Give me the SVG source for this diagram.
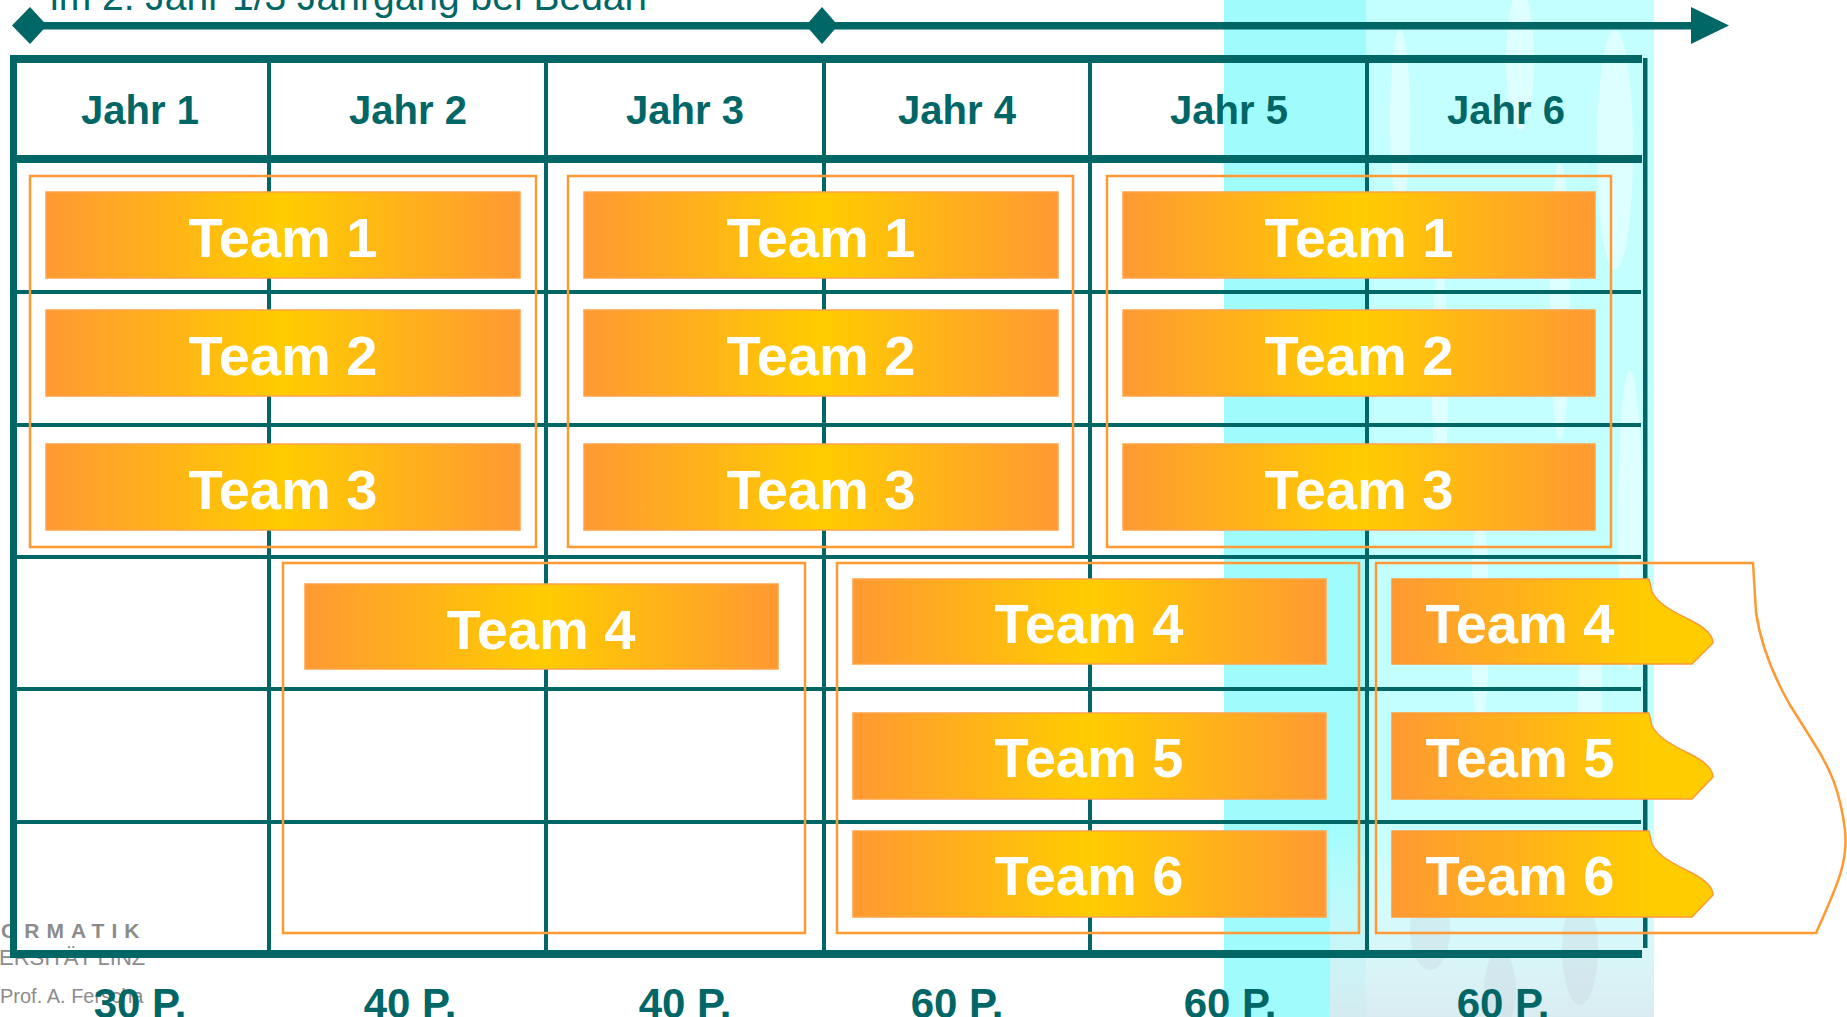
<svg xmlns="http://www.w3.org/2000/svg" width="1847" height="1017" viewBox="0 0 1847 1017">
<defs>
<style>
.teal{fill:#006666}
.frame{fill:none;stroke:#FF9933;stroke-width:2.5}
.box{fill:url(#gSym);stroke:#FFA347;stroke-width:1.5}
.abox{fill:url(#gArr);stroke:#FF9933;stroke-width:1.5}
.tt{font-family:"Liberation Sans",Arial,sans-serif;font-weight:bold;font-size:56px;fill:#FFFFFF;text-anchor:middle}
.hd{font-family:"Liberation Sans",Arial,sans-serif;font-weight:bold;font-size:40px;fill:#006666;text-anchor:middle}
.pt{font-family:"Liberation Sans",Arial,sans-serif;font-weight:bold;font-size:42px;fill:#006666;text-anchor:middle}
.logo{font-family:"Liberation Sans",Arial,sans-serif;fill:#8C8C8C}
</style>
<linearGradient id="gSym" x1="0" y1="0" x2="1" y2="0">
<stop offset="0" stop-color="#FF9933"/>
<stop offset="0.5" stop-color="#FFCC00"/>
<stop offset="1" stop-color="#FF9933"/>
</linearGradient>
<linearGradient id="gArr" x1="0" y1="0" x2="1" y2="0">
<stop offset="0" stop-color="#FF9933"/>
<stop offset="0.8" stop-color="#FFCC00"/>
<stop offset="1" stop-color="#FFCC00"/>
</linearGradient>
<linearGradient id="gBot" x1="0" y1="0" x2="0" y2="1">
<stop offset="0" stop-color="#FFFFFF" stop-opacity="0"/>
<stop offset="1" stop-color="#DCE8EE" stop-opacity="0.85"/>
</linearGradient>
</defs>

<g id="background">
<rect x="1224" y="0" width="430" height="1017" fill="#C4FFFF"/>
<rect x="1224" y="0" width="142" height="1017" fill="#A0FCFC"/>
<g fill="#FFFFFF" opacity="0.45">
<ellipse cx="1400" cy="120" rx="10" ry="90"/>
<ellipse cx="1440" cy="380" rx="8" ry="120"/>
<ellipse cx="1520" cy="60" rx="14" ry="70"/>
<ellipse cx="1560" cy="300" rx="10" ry="140"/>
<ellipse cx="1615" cy="150" rx="18" ry="120"/>
<ellipse cx="1630" cy="520" rx="12" ry="150"/>
<ellipse cx="1480" cy="620" rx="9" ry="110"/>
<ellipse cx="1590" cy="700" rx="12" ry="90"/>
</g>
<rect x="1330" y="820" width="324" height="197" fill="url(#gBot)"/>
<g fill="#C4D2DC" opacity="0.3">
<ellipse cx="1430" cy="930" rx="20" ry="40"/>
<ellipse cx="1500" cy="990" rx="16" ry="40"/>
<ellipse cx="1580" cy="950" rx="18" ry="55"/>
</g>
</g>

<g id="logo">
<text class="logo" x="1" y="938" font-size="21" font-weight="bold" letter-spacing="7">ORMATIK</text>
<text class="logo" x="-1" y="965" font-size="22">ERSITÄT LINZ</text>
<text class="logo" x="0" y="1003" font-size="20">Prof. A. Ferscha</text>
</g>

<g id="caption">
<text x="50" y="10" font-family="'Liberation Sans',Arial,sans-serif" font-size="39" fill="#006666">im 2. Jahr 1/3 Jahrgang bei Bedarf</text>
</g>

<g id="connectors">
<rect class="teal" x="30" y="22" width="1664" height="7.5"/>
<polygon class="teal" points="12,25.5 30,7 47,25.5 30,44"/>
<polygon class="teal" points="806,25.5 822,7 838,25.5 822,44"/>
<polygon class="teal" points="1691,7 1729,25.5 1691,44"/>
</g>

<g id="grid">
<rect class="teal" x="10" y="55" width="1632" height="8"/>
<rect class="teal" x="10" y="155" width="1632" height="8"/>
<rect class="teal" x="10" y="950" width="1632" height="8"/>
<rect class="teal" x="10" y="55" width="7" height="903"/>
<rect class="teal" x="1643" y="58" width="4.5" height="890"/>
<rect class="teal" x="267" y="63" width="4" height="887"/>
<rect class="teal" x="544" y="63" width="4" height="887"/>
<rect class="teal" x="822" y="63" width="4" height="887"/>
<rect class="teal" x="1088" y="63" width="4" height="887"/>
<rect class="teal" x="1365" y="63" width="4" height="887"/>
<rect class="teal" x="17" y="290" width="1624" height="4"/>
<rect class="teal" x="17" y="423" width="1624" height="4"/>
<rect class="teal" x="17" y="555" width="1624" height="4"/>
<rect class="teal" x="17" y="687" width="1624" height="4"/>
<rect class="teal" x="17" y="820" width="1624" height="4"/>
</g>

<g id="headers">
<text class="hd" x="140" y="124">Jahr 1</text>
<text class="hd" x="408" y="124">Jahr 2</text>
<text class="hd" x="685" y="124">Jahr 3</text>
<text class="hd" x="957" y="124">Jahr 4</text>
<text class="hd" x="1229" y="124">Jahr 5</text>
<text class="hd" x="1506" y="124">Jahr 6</text>
</g>

<g id="block-jahr1-2">
<rect class="frame" x="30" y="176" width="506" height="371"/>
<g id="b12-team1"><rect class="box" x="46" y="192" width="474" height="86"/><text class="tt" x="283" y="257">Team 1</text></g>
<g id="b12-team2"><rect class="box" x="46" y="310" width="474" height="86"/><text class="tt" x="283" y="375">Team 2</text></g>
<g id="b12-team3"><rect class="box" x="46" y="444" width="474" height="86"/><text class="tt" x="283" y="509">Team 3</text></g>
</g>

<g id="block-jahr3-4">
<rect class="frame" x="568" y="176" width="505" height="371"/>
<g id="b34-team1"><rect class="box" x="584" y="192" width="474" height="86"/><text class="tt" x="821" y="257">Team 1</text></g>
<g id="b34-team2"><rect class="box" x="584" y="310" width="474" height="86"/><text class="tt" x="821" y="375">Team 2</text></g>
<g id="b34-team3"><rect class="box" x="584" y="444" width="474" height="86"/><text class="tt" x="821" y="509">Team 3</text></g>
</g>

<g id="block-jahr5-6">
<rect class="frame" x="1107" y="176" width="504" height="371"/>
<g id="b56-team1"><rect class="box" x="1123" y="192" width="472" height="86"/><text class="tt" x="1359" y="257">Team 1</text></g>
<g id="b56-team2"><rect class="box" x="1123" y="310" width="472" height="86"/><text class="tt" x="1359" y="375">Team 2</text></g>
<g id="b56-team3"><rect class="box" x="1123" y="444" width="472" height="86"/><text class="tt" x="1359" y="509">Team 3</text></g>
</g>

<g id="block-jahr2-3">
<rect class="frame" x="283" y="563" width="522" height="370"/>
<g id="b23-team4"><rect class="box" x="305" y="584" width="473" height="85"/><text class="tt" x="541" y="649">Team 4</text></g>
</g>

<g id="block-jahr4-5">
<rect class="frame" x="837" y="563" width="522" height="370"/>
<g id="b45-team4"><rect class="box" x="853" y="579" width="473" height="85"/><text class="tt" x="1089" y="643">Team 4</text></g>
<g id="b45-team5"><rect class="box" x="853" y="713" width="473" height="86"/><text class="tt" x="1089" y="777">Team 5</text></g>
<g id="b45-team6"><rect class="box" x="853" y="831" width="473" height="86"/><text class="tt" x="1089" y="895">Team 6</text></g>
</g>

<g id="block-jahr6">
<path class="frame" d="M1376,563 H1753 L1756,612 C1760,640 1770,670 1790,705 L1812,740 C1830,768 1840,790 1845,830 C1848,860 1840,880 1816,933 H1376 Z"/>
<g id="b6-team4"><path class="abox" d="M1392,579 H1649 L1652,592 C1658,603 1668,609 1690,620 C1706,628 1713,635 1713,643 L1692,664 H1392 Z"/><text class="tt" x="1520" y="643">Team 4</text></g>
<g id="b6-team5"><path class="abox" d="M1392,713 H1649 L1652,726 C1658,737 1668,743 1690,754 C1706,762 1713,769 1713,777 L1692,799 H1392 Z"/><text class="tt" x="1520" y="777">Team 5</text></g>
<g id="b6-team6"><path class="abox" d="M1392,831 H1649 L1652,844 C1658,855 1668,861 1690,872 C1706,880 1713,887 1713,895 L1692,917 H1392 Z"/><text class="tt" x="1520" y="895">Team 6</text></g>
</g>

<g id="points">
<text class="pt" x="140" y="1018">30 P.</text>
<text class="pt" x="410" y="1018">40 P.</text>
<text class="pt" x="685" y="1018">40 P.</text>
<text class="pt" x="957" y="1018">60 P.</text>
<text class="pt" x="1230" y="1018">60 P.</text>
<text class="pt" x="1503" y="1018">60 P.</text>
</g>
</svg>
